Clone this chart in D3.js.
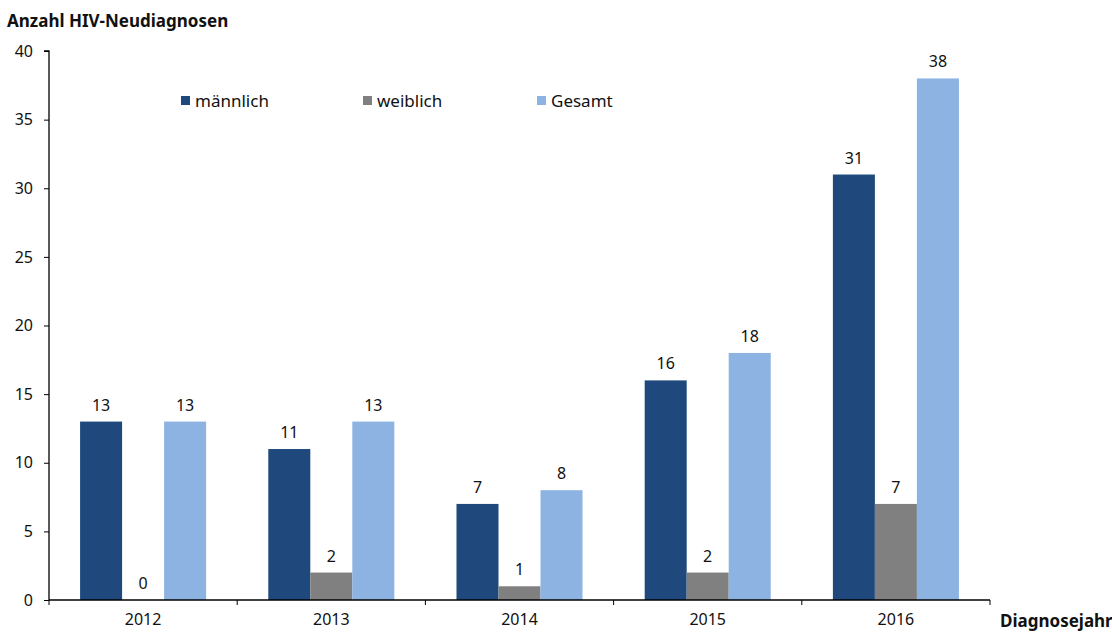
<!DOCTYPE html>
<html>
<head>
<meta charset="utf-8">
<script src="https://cdn.jsdelivr.net/npm/d3@7"></script>
<style>
  html, body { margin: 0; padding: 0; background: #fff; }
  svg { display: block; font-family: "Noto Sans", "Open Sans", sans-serif; }
</style>
</head>
<body>
<svg id="chart" width="1112" height="633"></svg>
<script>
// HIV-Neudiagnosen nach Geschlecht und Diagnosejahr
const years = ["2012", "2013", "2014", "2015", "2016"];
const seriesNames = ["männlich", "weiblich", "Gesamt"];
const maennlich = [13, 11, 7, 16, 31];
const weiblich = [0, 2, 1, 2, 7];
const gesamt = [13, 13, 8, 18, 38];
const yTicks = [0, 5, 10, 15, 20, 25, 30, 35, 40];
const colors = ["#1f497d", "#808080", "#8db3e2"];

const seriesValues = [maennlich, weiblich, gesamt];

const svg = d3.select("#chart");
const plotLeft = 49, plotRight = 990, plotTop = 51, plotBottom = 600;

const x = d3.scaleBand().domain(years).range([plotLeft, plotRight]).paddingInner(0).paddingOuter(0);
const inner = d3.scaleBand().domain(seriesNames).range([0, x.bandwidth()]).paddingInner(0).paddingOuter(0.74);
const y = d3.scaleLinear().domain([0, 40]).range([plotBottom, plotTop]);

// bars with value labels
seriesNames.forEach((name, si) => {
  const rows = years.map((yr, i) => ({ yr, v: seriesValues[si][i] }));
  const g = svg.append("g");
  g.selectAll("rect")
    .data(rows)
    .join("rect")
    .attr("x", d => x(d.yr) + inner(name))
    .attr("width", inner.bandwidth())
    .attr("y", d => y(d.v))
    .attr("height", d => y(0) - y(d.v))
    .attr("fill", colors[si]);
  g.selectAll("text")
    .data(rows)
    .join("text")
    .attr("x", d => x(d.yr) + inner(name) + inner.bandwidth() / 2)
    .attr("y", d => y(d.v) - 11)
    .attr("text-anchor", "middle")
    .attr("font-size", 16)
    .attr("fill", "#111")
    .text(d => d.v);
});

// y axis
const yAxis = d3.axisLeft(y).tickValues(yTicks).tickSize(5).tickPadding(11);
const yg = svg.append("g").attr("transform", `translate(${plotLeft},0)`).call(yAxis);
yg.select(".domain").attr("stroke", "#000").attr("stroke-width", 1.3).attr("d", `M-5,${plotTop}H0V${plotBottom}`);
yg.selectAll(".tick line").attr("stroke", "#000");
yg.selectAll(".tick text").attr("font-size", 16).attr("fill", "#111").attr("font-family", "Noto Sans, sans-serif");

// x axis
const xAxis = d3.axisBottom(x).tickSize(0).tickPadding(14);
const xg = svg.append("g").attr("transform", `translate(0,${plotBottom})`).call(xAxis);
xg.select(".domain").attr("stroke", "#000").attr("stroke-width", 1.3).attr("d", `M${plotLeft},0H${plotRight}`);
xg.selectAll(".tick text").attr("font-size", 16).attr("fill", "#111").attr("font-family", "Noto Sans, sans-serif");
// category separators
xg.append("g").selectAll("line")
  .data(years.map(d => x(d)).concat([plotRight]))
  .join("line")
  .attr("x1", d => d).attr("x2", d => d)
  .attr("y1", 0).attr("y2", 5)
  .attr("stroke", "#000");

// legend
const legendX = [181, 363, 537];
const legend = svg.append("g");
seriesNames.forEach((name, i) => {
  legend.append("rect")
    .attr("x", legendX[i]).attr("y", 96)
    .attr("width", 9).attr("height", 9)
    .attr("fill", colors[i]);
  legend.append("text")
    .attr("x", legendX[i] + 14).attr("y", 107)
    .attr("font-size", 17).attr("fill", "#111")
    .text(name);
});

// titles
svg.append("text")
  .attr("x", 7).attr("y", 27)
  .attr("font-size", 17).attr("font-weight", "bold").attr("fill", "#111")
  .text("Anzahl HIV-Neudiagnosen");
svg.append("text")
  .attr("x", 1000).attr("y", 627)
  .attr("font-size", 17).attr("font-weight", "bold").attr("fill", "#111")
  .text("Diagnosejahr");
</script>
</body>
</html>
